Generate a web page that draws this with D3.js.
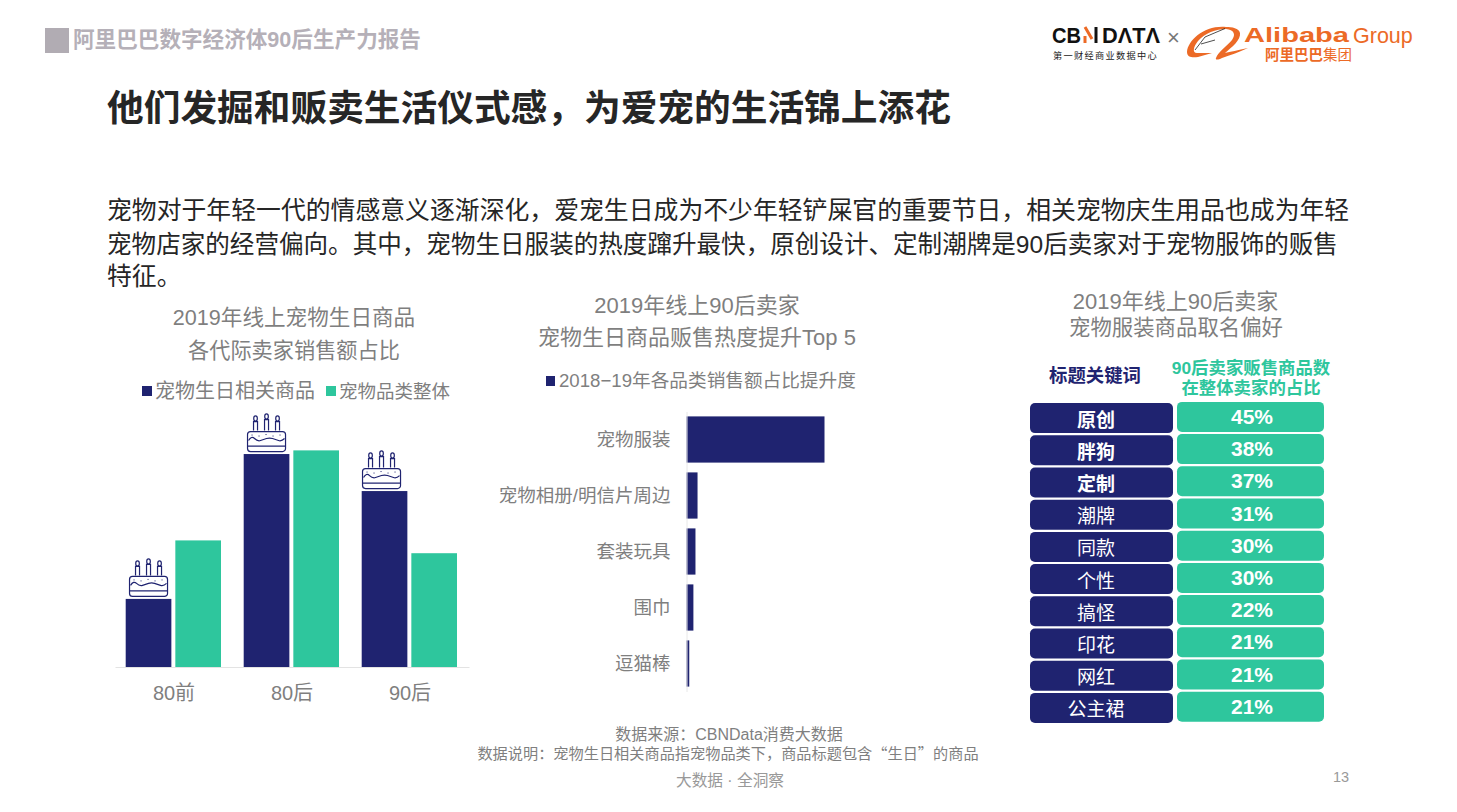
<!DOCTYPE html>
<html>
<head>
<meta charset="utf-8">
<script src="https://cdn.jsdelivr.net/npm/d3@7"></script>
<style>
html,body{margin:0;padding:0;background:#fff;overflow:hidden}
text{font-family:"Liberation Sans","Noto Sans CJK SC",sans-serif}
</style>
</head>
<body>
<svg width="1457" height="812"></svg>
<script>
// share of sales per generation (%)
var generations = ['80前','80后','90后'];
var birthdayShare = [14.9,46.6,38.5];
var overallShare = [27.7,47.4,24.9];

// relative lift, top bar = 100
var liftCats = ['宠物服装','宠物相册/明信片周边','套装玩具','围巾','逗猫棒'];
var liftVals = [100,8,6.5,5,2];

var keywords = ['原创','胖狗','定制','潮牌','同款','个性','搞怪','印花','网红','公主裙'];
var keywordPct = [45,38,37,31,30,30,22,21,21,21];
var boldRows = 3;

var navy = '#1f2370', green = '#2ec69d', grey = '#7f7f7f', orange = '#ec6a26';

var svg = d3.select('svg');

function label(x,y,str,size,color,anchor,weight){
  return svg.append('text').attr('x',x).attr('y',y).text(str)
    .attr('font-size',size).attr('fill',color)
    .attr('text-anchor',anchor||'start').attr('font-weight',weight||'normal');
}

// header
svg.append('rect').attr('x',45).attr('y',28).attr('width',24).attr('height',25).attr('fill','#b1acb3');
label(73,47,'阿里巴巴数字经济体90后生产力报告',21.6,'#b5b0b8','start','bold');

// logos
label(1052,43,'CB',22,'#111','start','bold').attr('textLength',29).attr('lengthAdjust','spacingAndGlyphs');
svg.append('path').attr('d','M1085,27 L1092,39 M1085,36 V43').attr('stroke',orange).attr('stroke-width',3).attr('fill','none');
svg.append('path').attr('d','M1096,27 V43').attr('stroke','#111').attr('stroke-width',3).attr('fill','none');
label(1102,43,'DΛTΛ',22,'#111','start','bold').attr('textLength',58).attr('lengthAdjust','spacingAndGlyphs');
label(1053,59,'第一财经商业数据中心',9.2,'#222').attr('letter-spacing',1.3);
label(1167,45,'×',22,'#777');
svg.append('path')
  .attr('d','M1226,27 C1205,25 1188,40 1187,52 C1187,57 1192,58 1198,57 L1212,53 L1198,53 C1192,54 1193,47 1198,41 C1205,33 1216,29 1226,29 C1234,30 1236,34 1232,40 C1227,46 1218,52 1216,58 C1215,60 1218,60 1222,58 C1230,55 1240,52 1248,48 C1238,50 1230,52 1225,53 C1232,47 1241,40 1240,33 C1239,28 1232,27 1226,27 Z')
  .attr('fill',orange);
svg.append('path').attr('d','M1195,50 L1205,37 L1225,28.5 M1201,44 L1215,40')
  .attr('fill','none').attr('stroke','#222').attr('stroke-width',.8);
label(1244,42,'Alibaba',21,orange,'start','bold').attr('textLength',105).attr('lengthAdjust','spacingAndGlyphs');
label(1353,43,'Group',21.5,orange);
label(1265,60,'阿里巴巴',14.5,orange,'start','bold');
label(1323,60,'集团',14.5,orange);

// title and intro
label(107,121,'他们发掘和贩卖生活仪式感，为爱宠的生活锦上添花',36.7,'#262626','start','bold');
label(107,219,'宠物对于年轻一代的情感意义逐渐深化，爱宠生日成为不少年轻铲屎官的重要节日，相关宠物庆生用品也成为年轻',24.85,'#262626');
label(107,253,'宠物店家的经营偏向。其中，宠物生日服装的热度蹿升最快，原创设计、定制潮牌是90后卖家对于宠物服饰的贩售',24.57,'#262626');
label(107,285,'特征。',24.85,'#262626');

// left chart
label(294,325,'2019年线上宠物生日商品',21.6,grey,'middle');
label(294,358,'各代际卖家销售额占比',21.2,grey,'middle');
svg.append('rect').attr('x',142).attr('y',386).attr('width',10).attr('height',10).attr('fill',navy);
label(155,398,'宠物生日相关商品',20,grey);
svg.append('rect').attr('x',326).attr('y',386).attr('width',10).attr('height',10).attr('fill',green);
label(339,398,'宠物品类整体',18.5,grey);

var x0 = d3.scaleBand().domain(generations).range([115,469]).paddingInner(0).paddingOuter(0);
var x1 = d3.scaleBand().domain(['a','b']).range([10.7,106]).paddingInner(.08);
var yShare = d3.scaleLinear().domain([0,50]).range([667,438.5]);

var leftG = svg.append('g');
[['a',birthdayShare,navy],['b',overallShare,green]].forEach(function(s){
  leftG.selectAll('rect.'+s[0]).data(s[1]).enter().append('rect')
    .attr('class',s[0])
    .attr('x',function(d,i){return x0(generations[i])+x1(s[0]);})
    .attr('y',function(d){return yShare(d);})
    .attr('width',x1.bandwidth())
    .attr('height',function(d){return 667-yShare(d);})
    .attr('fill',s[2]);
});

var axisL = svg.append('g').attr('transform','translate(0,667)')
  .call(d3.axisBottom(x0).tickSize(0).tickPadding(19));
axisL.select('.domain').attr('stroke','#e3e3e3');
axisL.selectAll('text').attr('font-size',20).attr('fill',grey)
  .style('font-family','"Liberation Sans","Noto Sans CJK SC",sans-serif');

// cake icon, origin at bottom centre
function cake(cx,by){
  var g = svg.append('g').attr('transform','translate('+cx+','+by+')')
    .attr('fill','none').attr('stroke',navy).attr('stroke-width',1.2);
  g.append('rect').attr('x',-19).attr('y',-20).attr('width',38).attr('height',20).attr('rx',3).attr('fill','#fff');
  g.append('path').attr('d','M-19,-5.5 H19');
  g.append('path').attr('d','M-18,-11 q3,-5 6,-2 t6,2 t6,-2 t6,0 t6,2 t6,-2');
  g.append('path').attr('d','M-15,-16.5 h1 M-8,-15.5 h1 M-1,-17 h1 M6,-15.5 h1 M13,-16.5 h1').attr('stroke-width',1);
  [-11,0,11].forEach(function(dx,i){
    var h = i==1 ? 11 : 9;
    g.append('path').attr('d','M'+(dx-2)+',-21 v-'+h+' h4 v'+h);
    g.append('ellipse').attr('cx',dx).attr('cy',-24-h).attr('rx',1.8).attr('ry',2.6);
  });
}
birthdayShare.forEach(function(d,i){
  var dx = i==2 ? -3 : 0;
  cake(x0(generations[i])+x1('a')+x1.bandwidth()/2+dx, yShare(d)-2.5);
});

// middle chart
label(697,313,'2019年线上90后卖家',22,grey,'middle');
label(697,345,'宠物生日商品贩售热度提升Top 5',22,grey,'middle');
svg.append('rect').attr('x',546).attr('y',376).attr('width',9).attr('height',10).attr('fill',navy);
label(559,387,'2018−19年各品类销售额占比提升度',18.65,grey);

var xLift = d3.scaleLinear().domain([0,100]).range([686.5,824.5]);
var yLift = d3.scaleBand().domain(liftCats).range([411.5,691.5]).paddingInner(.175).paddingOuter(.0875);

svg.selectAll('rect.lift').data(liftVals).enter().append('rect')
  .attr('class','lift')
  .attr('x',xLift(0))
  .attr('y',function(d,i){return yLift(liftCats[i]);})
  .attr('width',function(d){return xLift(d)-xLift(0);})
  .attr('height',yLift.bandwidth())
  .attr('fill',navy);

var axisM = svg.append('g').attr('transform','translate(686.5,0)')
  .call(d3.axisLeft(yLift).tickSize(0).tickPadding(16));
axisM.select('.domain').attr('stroke','#e8e8e8');
axisM.selectAll('text').attr('font-size',18.5).attr('fill',grey).attr('dy','0.36em')
  .style('font-family','"Liberation Sans","Noto Sans CJK SC",sans-serif');

// right table
label(1175.5,309,'2019年线上90后卖家',22,grey,'middle');
label(1176,335,'宠物服装商品取名偏好',21.4,grey,'middle');
label(1095,382,'标题关键词',18.4,navy,'middle','bold');
label(1251,374,'90后卖家贩售商品数',17.4,green,'middle','bold');
label(1251,394,'在整体卖家的占比',17.4,green,'middle','bold');

var yRow = d3.scaleBand().domain(keywords).range([401.4,723.4]).paddingInner(.068).paddingOuter(.034);

keywords.forEach(function(k,i){
  var y = yRow(k), h = yRow.bandwidth();
  svg.append('rect').attr('x',1030).attr('y',y+.6).attr('width',143).attr('height',h).attr('rx',5).attr('fill',navy);
  svg.append('rect').attr('x',1177).attr('y',y-.6).attr('width',147).attr('height',h).attr('rx',5).attr('fill',green);
  label(1096,y+h/2+9,k,19,'#fff','middle',i<boldRows?'bold':'normal');
  label(1252,y+h/2+6.5,keywordPct[i]+'%',21,'#fff','middle','bold');
});

// footer
label(729,739.5,'数据来源：CBNData消费大数据',16,grey,'middle');
var note = label(728,758.5,'',15.2,grey,'middle');
note.append('tspan').text('数据说明：宠物生日相关商品指宠物品类下，商品标题包含');
note.append('tspan').text('“').style('font-family','"Noto Sans CJK SC"');
note.append('tspan').text('生日');
note.append('tspan').text('”').style('font-family','"Noto Sans CJK SC"');
note.append('tspan').text('的商品');
label(730,786,'大数据 · 全洞察',15.7,'#999','middle');
label(1341,782,'13',14.5,'#999','middle');
</script>
</body>
</html>
